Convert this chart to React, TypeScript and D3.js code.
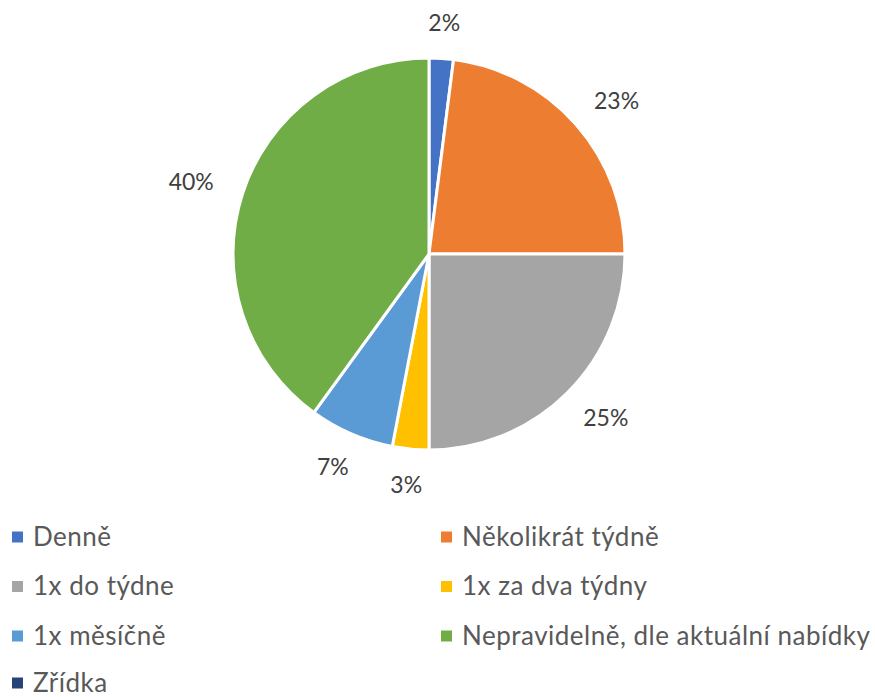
import React from "react";
import * as d3 from "d3";

const categories = [
  "Denně",
  "Několikrát týdně",
  "1x do týdne",
  "1x za dva týdny",
  "1x měsíčně",
  "Nepravidelně, dle aktuální nabídky",
  "Zřídka",
];
const values = [2, 23, 25, 3, 7, 40, 0];
const labels = ["2%", "23%", "25%", "3%", "7%", "40%", ""];
const colors = ["#4472C4", "#ED7D31", "#A5A5A5", "#FFC000", "#5B9BD5", "#70AD47", "#264478"];

const W = 875;
const H = 697;
const cx = 429;
const cy = 254;
const R = 196;
const FONT = "Lato, 'Open Sans', sans-serif";

export default function App() {
  const pie = d3.pie<number>().sort(null).value((d) => d)(values);
  const arc = d3.arc<d3.PieArcDatum<number>>().innerRadius(0).outerRadius(R);
  const gap = 26;
  const legendRows = [537, 586.5, 636, 683];
  return (
    <svg width={W} height={H} style={{ position: "absolute", left: 0, top: 0 }}>
      <rect width={W} height={H} fill="#fff" />
      <g transform={`translate(${cx},${cy})`}>
        {pie.map((p, i) =>
          p.endAngle - p.startAngle > 0 ? (
            <path key={i} d={arc(p) || ""} fill={colors[i]} stroke="#fff" strokeWidth={3} strokeLinejoin="round" />
          ) : null
        )}
        {pie.map((p, i) => {
          if (p.endAngle - p.startAngle <= 0) return null;
          const a = (p.startAngle + p.endAngle) / 2;
          const s = Math.sin(a);
          const c = Math.cos(a);
          const hw = labels[i].length === 2 ? 20 : 28;
          const hh = 10;
          const x = s * (R + gap + hw);
          const y = -c * (R + gap + hh);
          return (
            <text key={i} x={x} y={y} dy="0.35em" textAnchor="middle" fontFamily={FONT} fontSize={23} fill="#404040">
              {labels[i]}
            </text>
          );
        })}
      </g>
      {categories.map((cat, i) => {
        const col = i % 2;
        const row = Math.floor(i / 2);
        const mx = col === 0 ? 12 : 441;
        const y = legendRows[row];
        return (
          <g key={i}>
            <rect x={mx} y={y - 5.5} width={11} height={11} fill={colors[i]} />
            <text x={mx + 21} y={y} dy="0.33em" fontFamily={FONT} fontSize={26} letterSpacing={0.5} fill="#595959">
              {cat}
            </text>
          </g>
        );
      })}
    </svg>
  );
}
